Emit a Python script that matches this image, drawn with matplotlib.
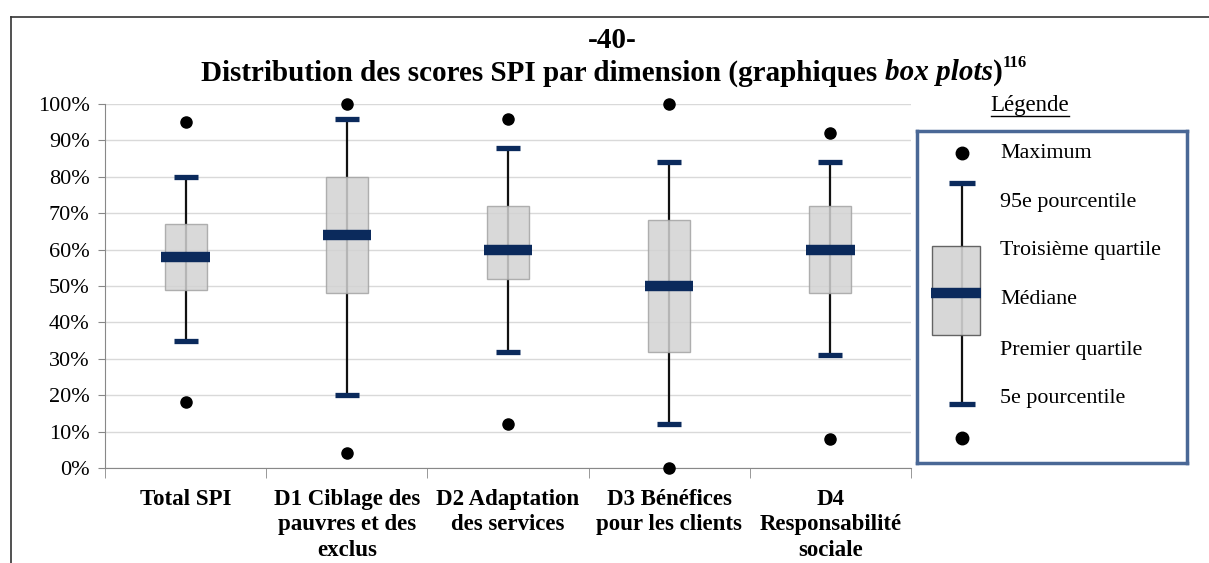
import matplotlib
matplotlib.use("Agg")
import matplotlib.pyplot as plt
from matplotlib.lines import Line2D
from matplotlib.patches import Rectangle

plt.rcParams["font.family"] = ["Liberation Serif", "DejaVu Serif"]

# -------------------------------------------------------------
# Data (in %)
# -------------------------------------------------------------
categories = ["Total SPI", "D1 Ciblage des\npauvres et des\nexclus", "D2 Adaptation\ndes services",
              "D3 Bénéfices\npour les clients", "D4\nResponsabilité\nsociale"]
maximum = [95, 100, 96, 100, 92]
p95 = [80, 96, 88, 84, 84]
q3 = [67, 80, 72, 68, 72]
median = [58, 64, 60, 50, 60]
q1 = [49, 48, 52, 32, 48]
p5 = [35, 20, 32, 12, 31]
minimum = [18, 4, 12, 0, 8]

navy = "#0b2a5c"
box_face = "#d3d3d3"
box_edge = "#a3a3a3"

W, H = 1209, 563
fig = plt.figure(figsize=(W / 100, H / 100), dpi=100)

# page frame
fig.add_artist(Line2D([11 / W, 1.0], [1 - 17 / H, 1 - 17 / H], color="#333333", lw=1.2))
fig.add_artist(Line2D([11 / W, 11 / W], [1 - 17 / H, 0], color="#333333", lw=1.2))

# -------------------------------------------------------------
# Main box plot axes
# -------------------------------------------------------------
ax = fig.add_axes([105 / W, 1 - 468 / H, (911 - 105) / W, (468 - 104) / H])
x = list(range(len(categories)))

bw, mw, cw = 0.26, 0.30, 0.15
for i in x:
    ax.vlines(i, p5[i], p95[i], color="#111111", lw=1.6, zorder=2)
    ax.add_patch(Rectangle((i - bw / 2, q1[i]), bw, q3[i] - q1[i], facecolor=box_face,
                           edgecolor=box_edge, lw=1.0, alpha=0.85, zorder=3))
ax.hlines(median, [i - mw / 2 for i in x], [i + mw / 2 for i in x], color=navy, lw=7.5, zorder=4)
ax.hlines(p95, [i - cw / 2 for i in x], [i + cw / 2 for i in x], color=navy, lw=3.8, zorder=4)
ax.hlines(p5, [i - cw / 2 for i in x], [i + cw / 2 for i in x], color=navy, lw=3.8, zorder=4)
ax.plot(x, maximum, "o", color="black", ms=8, ls="none", clip_on=False, zorder=5)
ax.plot(x, minimum, "o", color="black", ms=8, ls="none", clip_on=False, zorder=5)

ax.set_xlim(-0.5, len(categories) - 0.5)
ax.set_ylim(0, 100)
ax.set_yticks(range(0, 101, 10))
ax.set_yticklabels([f"{v}%" for v in range(0, 101, 10)], fontsize=16)
ax.yaxis.grid(True, color="#d9d9d9", lw=1.0)
ax.set_axisbelow(True)
ax.set_xticks(x)
ax.set_xticklabels(categories, fontsize=16.5, fontweight="bold", linespacing=1.29)
ax.set_xticks([i - 0.5 for i in range(len(categories) + 1)], minor=True)
ax.tick_params(axis="x", which="major", length=0, pad=15)
ax.tick_params(axis="x", which="minor", length=7, color="#888888", direction="out")
ax.tick_params(axis="y", length=5, color="#888888", pad=6)
for s in ["top", "right"]:
    ax.spines[s].set_visible(False)
ax.spines["left"].set_color("#888888")
ax.spines["bottom"].set_color("#888888")

# -------------------------------------------------------------
# Titles
# -------------------------------------------------------------
fig.text(612 / W, 1 - 40 / H, "-40-", ha="center", va="center", fontsize=21, fontweight="bold")

renderer = fig.canvas.get_renderer()
ty = 1 - 73 / H
parts = [("Distribution des scores SPI par dimension (graphiques ", "normal"),
         ("box plots", "italic"), (")", "normal")]
texts = []
for s, style in parts:
    texts.append(fig.text(0, ty, s, fontsize=21, fontweight="bold", style=style, va="center"))
sup = fig.text(0, ty + 10 / H, "116", fontsize=12, fontweight="bold", va="center")
widths = [t.get_window_extent(renderer).width for t in texts] + [sup.get_window_extent(renderer).width]
xpos = 614 - sum(widths) / 2
for t, w in zip(texts + [sup], widths):
    t.set_x(xpos / W)
    xpos += w

# -------------------------------------------------------------
# Legend panel
# -------------------------------------------------------------
lg = fig.text(1030 / W, 1 - 106 / H, "Légende", ha="center", va="center", fontsize=16.5)
bb = lg.get_window_extent(renderer)
fig.add_artist(Line2D([bb.x0 / W, bb.x1 / W], [(bb.y0 + 1) / H, (bb.y0 + 1) / H], color="black", lw=1.0))

lax = fig.add_axes([917 / W, 1 - 463 / H, (1187 - 917) / W, (463 - 131) / H])
lax.set_xlim(917, 1187)
lax.set_ylim(463, 131)
lax.set_xticks([])
lax.set_yticks([])
for s in lax.spines.values():
    s.set_color("#4a6896")
    s.set_linewidth(2.5)

cx = 962
lax.vlines(cx, 183, 404, color="#111111", lw=1.6, zorder=2)
lax.add_patch(Rectangle((932, 246), 48, 89, facecolor=box_face, edgecolor="#555555", lw=1.0, alpha=0.9, zorder=3))
lax.hlines(293, 931, 981, color=navy, lw=7.5, zorder=4)
lax.hlines([183, 404], cx - 13, cx + 13, color=navy, lw=3.8, zorder=4)
lax.plot([cx, cx], [153, 438], "o", color="black", ms=9, ls="none", zorder=5)

legend_labels = ["Maximum", "95e pourcentile", "Troisième quartile", "Médiane", "Premier quartile", "5e pourcentile"]
legend_y = [153, 202, 251, 299, 350, 398]
for lbl, yy in zip(legend_labels, legend_y):
    lax.text(1000, yy, lbl, fontsize=15.8, va="center", ha="left")

fig.savefig("out.png", dpi=100)
